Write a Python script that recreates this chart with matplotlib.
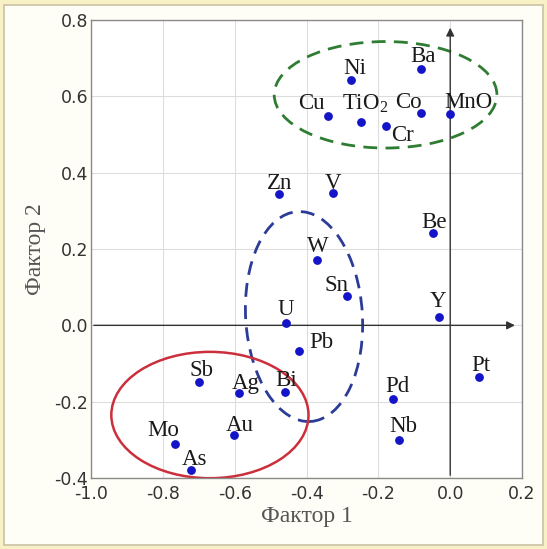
import numpy as np
import matplotlib.pyplot as plt
from matplotlib.patches import Ellipse, Rectangle

plt.rcParams['mathtext.fontset'] = 'custom'
plt.rcParams['mathtext.rm'] = 'Liberation Serif'

# factor loadings
elements = ["Ba", "Ni", "Cu", "TiO$_2$", "Cr", "Co", "MnO", "Zn", "V", "Be",
            "W", "Sn", "Y", "U", "Pb", "Pt", "Sb", "Ag", "Bi", "Pd",
            "Au", "Mo", "As", "Nb"]
factor1 = [-0.082, -0.276, -0.340, -0.247, -0.178, -0.082, 0.000, -0.477, -0.326, -0.047,
           -0.372, -0.288, -0.032, -0.457, -0.422, 0.081, -0.698, -0.587, -0.459, -0.160,
           -0.602, -0.765, -0.721, -0.143]
factor2 = [0.671, 0.642, 0.548, 0.532, 0.522, 0.556, 0.553, 0.343, 0.346, 0.243,
           0.170, 0.078, 0.023, 0.007, -0.067, -0.135, -0.148, -0.177, -0.174, -0.193,
           -0.287, -0.311, -0.379, -0.300]

xticks = [-1.0, -0.8, -0.6, -0.4, -0.2, 0.0, 0.2]
yticks = [-0.4, -0.2, 0.0, 0.2, 0.4, 0.6, 0.8]

# label baseline offsets in pixels (dx, dy up)
offsets = {"Ba": (2, 7.5), "Ni": (4, 6.5), "Cu": (-17, 7.5), "TiO$_2$": (4, 13),
           "Cr": (16, -14.5), "Co": (-12, 5), "MnO": (18, 6.5), "Zn": (1, 5),
           "V": (0, 4.5), "Be": (1, 5), "W": (1, 8), "Sn": (-10, 5),
           "Y": (-1, 10), "U": (0, 7.5), "Pb": (23, 3), "Pt": (2, 6),
           "Sb": (2, 6), "Ag": (6, 4), "Bi": (1, 6), "Pd": (5, 7),
           "Au": (6, 4), "Mo": (-12, 8.5), "As": (3.5, 5), "Nb": (4.5, 7.5)}

fig = plt.figure(figsize=(5.47, 5.49), dpi=100, facecolor="#f9f1c6")
fig.patches.append(Rectangle((0.008, 0.008), 0.984, 0.982, transform=fig.transFigure,
                             facecolor="#fffef6", edgecolor="#c9c2a6", lw=1.2, zorder=-10))
ax = fig.add_axes([0.1664, 0.1293, 0.788, 0.8343])
ax.set_facecolor("white")

ax.set_xlim(-1.0, 0.2)
ax.set_ylim(-0.4, 0.8)
ax.set_xticks(xticks)
ax.set_yticks(yticks)
ax.set_xticklabels([f"{v:.1f}" for v in xticks])
ax.set_yticklabels([f"{v:.1f}" for v in yticks])
ax.grid(True, color="#dddddd", lw=0.8)
ax.set_axisbelow(True)
for s in ax.spines.values():
    s.set_color("#8a8a8a")
    s.set_linewidth(1.0)
ax.tick_params(length=0, labelsize=12.5, labelcolor="#333333")
ax.tick_params(axis="x", pad=5)
ax.tick_params(axis="y", pad=2)
for lab in ax.get_xticklabels() + ax.get_yticklabels():
    lab.set_family("DejaVu Sans")
ax.get_yticklabels()[0].set_va("center_baseline")

# axis arrows through the origin
ax.annotate("", xy=(0.0, 0.787), xytext=(0.0, -0.4),
            arrowprops=dict(arrowstyle="-|>", color="#333333", lw=1.0, mutation_scale=12))
ax.annotate("", xy=(0.188, 0.0), xytext=(-1.0, 0.0),
            arrowprops=dict(arrowstyle="-|>", color="#333333", lw=1.0, mutation_scale=12))

# cluster ellipses
ax.add_patch(Ellipse((-0.180, 0.604), 0.620, 0.279, fill=False,
                     edgecolor="#2e7d32", lw=2, ls=(0, (5, 3))))
ax.add_patch(Ellipse((-0.407, 0.023), 0.325, 0.551, angle=4, fill=False,
                     edgecolor="#2b3c98", lw=2, ls=(0, (5, 3))))
ax.add_patch(Ellipse((-0.669, -0.235), 0.549, 0.331, fill=False,
                     edgecolor="#cc2f3c", lw=1.8))

ax.scatter(factor1, factor2, s=28, color="#1414c8", zorder=3)
for name, x, y in zip(elements, factor1, factor2):
    dx, dy = offsets[name]
    ax.annotate(name, (x, y), xytext=(dx, dy), textcoords="offset pixels",
                ha="center", va="baseline", fontsize=16.5, family="Liberation Serif",
                color="#1a1a1a")

ax.set_xlabel("Фактор 1", fontsize=17, family="Liberation Serif", color="#555555", labelpad=2)
ax.set_ylabel("Фактор 2", fontsize=17, family="Liberation Serif", color="#555555", labelpad=6)

fig.savefig("out.png", dpi=100, facecolor=fig.get_facecolor())
